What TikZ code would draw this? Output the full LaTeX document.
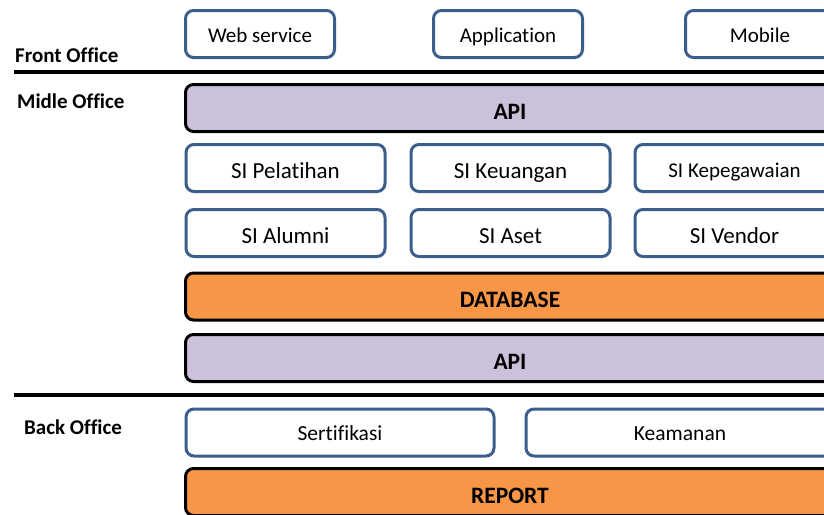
\documentclass[tikz,border=0pt]{standalone}
\usepackage{fontspec}
\setmainfont[Ligatures=NoCommon]{Carlito}
\definecolor{boxblue}{HTML}{3B5E8C}
\definecolor{lav}{HTML}{CBC1DB}
\definecolor{orng}{HTML}{F79646}
\begin{document}
\begin{tikzpicture}[x=1pt,y=-1pt,
  wbox/.style={draw=boxblue,line width=3pt,rounded corners=8pt,fill=white,inner sep=0pt,minimum height=47pt,text depth=0pt,text height=20.4pt,font=\fontsize{23}{27}\selectfont},
  topbox/.style={wbox,minimum width=149pt,font=\fontsize{21}{25}\selectfont,text height=16.2pt},
  sibox/.style={wbox,minimum width=199pt},
  backbox/.style={wbox,minimum width=308pt,font=\fontsize{21.5}{25}\selectfont,text height=16.6pt},
  bar/.style={draw=black,line width=3pt,rounded corners=8pt,inner sep=0pt,minimum width=649pt,minimum height=47pt,text depth=0pt,text height=22.8pt,font=\fontsize{23.5}{27}\selectfont\bfseries},
  office/.style={anchor=west,inner sep=0pt,font=\fontsize{21}{25}\selectfont\bfseries},
  divider/.style={line width=4pt}]
\useasboundingbox (0,0) rectangle (824,514);
\clip (0,0) rectangle (824,514);
% labels
\node[office] (fo) at (15,55) {Front Office};
\node[office] (mo) at (17,101) {Midle Office};
\node[office] (bo) at (24,427) {Back Office};
% dividers
\coordinate (d1a) at (14,72); \coordinate (d1b) at (830,72);
\coordinate (d2a) at (14,395); \coordinate (d2b) at (830,395);
\draw[divider] (d1a) -- (d1b);
\draw[divider] (d2a) -- (d2b);
% front office
\node[topbox] (web) at (260,34) {Web service};
\node[topbox] (app) at (508,34) {Application};
\node[topbox] (mob) at (760,34) {Mobile};
% middle office
\node[bar,fill=lav] (api1) at (510,108) {API};
\node[sibox] (pel) at (285.5,168) {SI Pelatihan};
\node[sibox] (keu) at (510.5,168) {SI Keuangan};
\node[sibox,font=\fontsize{21}{25}\selectfont,text height=19.2pt] (peg) at (734.5,168) {SI Kepegawaian};
\node[sibox] (alu) at (285.5,233) {SI Alumni};
\node[sibox] (aset) at (510.5,233) {SI Aset};
\node[sibox] (ven) at (734.5,233) {SI Vendor};
\node[bar,fill=orng] (db) at (510,296.5) {DATABASE};
\node[bar,fill=lav] (api2) at (510,358) {API};
% back office
\node[backbox] (ser) at (340,432.5) {Sertifikasi};
\node[backbox] (kea) at (680,432.5) {Keamanan};
\node[bar,fill=orng] (rep) at (510,492) {REPORT};
\end{tikzpicture}
\end{document}
